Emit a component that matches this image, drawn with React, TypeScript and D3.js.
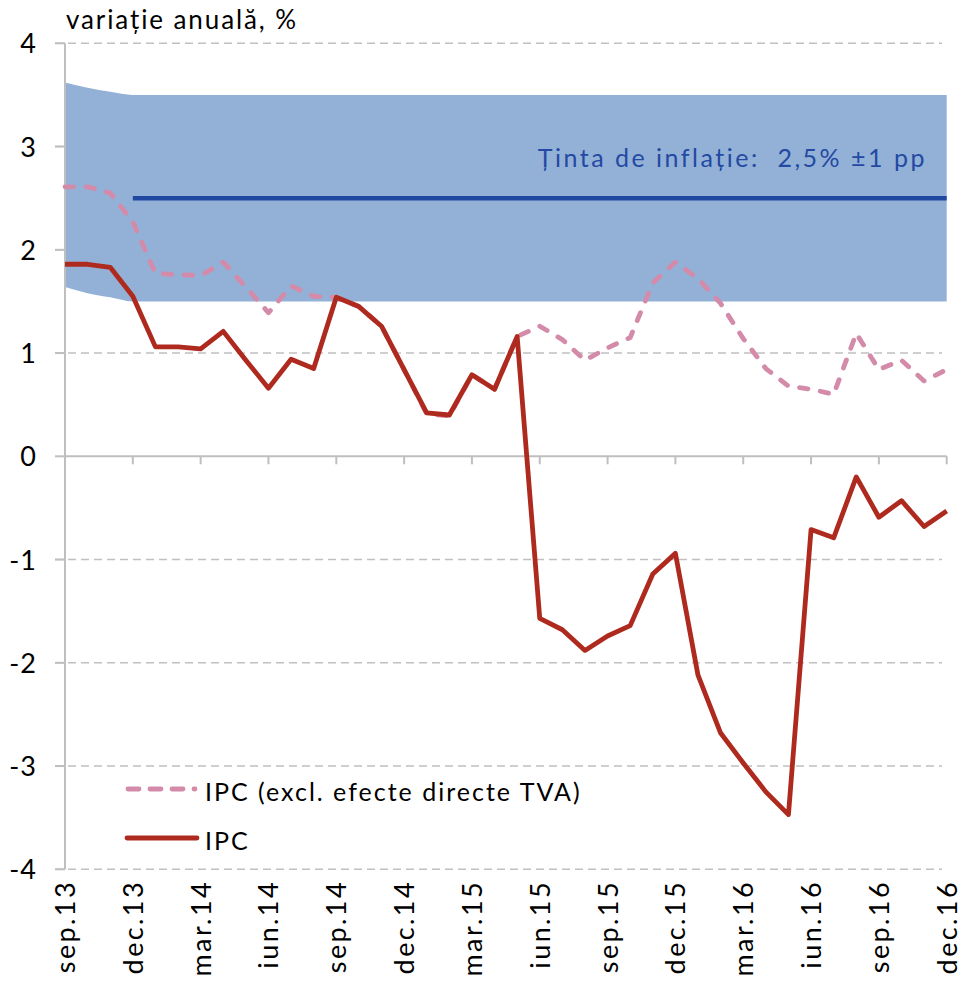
import React, { useEffect, useRef } from 'react';
import * as d3 from 'd3';

// categories: monthly, sep.13 .. dec.16
const months = [
  'sep.13', 'oct.13', 'noi.13', 'dec.13',
  'ian.14', 'feb.14', 'mar.14', 'apr.14', 'mai.14', 'iun.14', 'iul.14', 'aug.14', 'sep.14', 'oct.14', 'noi.14', 'dec.14',
  'ian.15', 'feb.15', 'mar.15', 'apr.15', 'mai.15', 'iun.15', 'iul.15', 'aug.15', 'sep.15', 'oct.15', 'noi.15', 'dec.15',
  'ian.16', 'feb.16', 'mar.16', 'apr.16', 'mai.16', 'iun.16', 'iul.16', 'aug.16', 'sep.16', 'oct.16', 'noi.16', 'dec.16',
];
const tickLabels = ['sep.13', 'dec.13', 'mar.14', 'iun.14', 'sep.14', 'dec.14', 'mar.15', 'iun.15', 'sep.15', 'dec.15', 'mar.16', 'iun.16', 'sep.16', 'dec.16'];
const yTicks = [4, 3, 2, 1, 0, -1, -2, -3, -4];

// IPC, variatie anuala %
const ipc = [
  1.86, 1.86, 1.83, 1.55,
  1.06, 1.06, 1.04, 1.21, 0.93, 0.66, 0.94, 0.85, 1.54, 1.45, 1.26, 0.84,
  0.42, 0.40, 0.79, 0.65, 1.16, -1.57, -1.68, -1.88, -1.74, -1.64, -1.14, -0.94,
  -2.12, -2.68, -2.97, -3.25, -3.47, -0.71, -0.79, -0.20, -0.59, -0.43, -0.68, -0.53,
];
// IPC excl. efecte directe TVA
const ipcExcl = [
  2.61, 2.61, 2.55, 2.27,
  1.77, 1.76, 1.75, 1.88, 1.64, 1.39, 1.65, 1.55, 1.54, 1.45, 1.26, 0.84,
  0.41, 0.39, 0.79, 0.65, 1.16, 1.26, 1.13, 0.93, 1.05, 1.15, 1.68, 1.88,
  1.72, 1.48, 1.14, 0.85, 0.68, 0.65, 0.60, 1.19, 0.84, 0.93, 0.73, 0.84,
];
// target band and target
const bandUpper = [
  3.62, 3.57, 3.53, 3.5,
  3.5, 3.5, 3.5, 3.5, 3.5, 3.5, 3.5, 3.5, 3.5, 3.5, 3.5, 3.5,
  3.5, 3.5, 3.5, 3.5, 3.5, 3.5, 3.5, 3.5, 3.5, 3.5, 3.5, 3.5,
  3.5, 3.5, 3.5, 3.5, 3.5, 3.5, 3.5, 3.5, 3.5, 3.5, 3.5, 3.5,
];
const bandLower = [
  1.64, 1.58, 1.54, 1.5,
  1.5, 1.5, 1.5, 1.5, 1.5, 1.5, 1.5, 1.5, 1.5, 1.5, 1.5, 1.5,
  1.5, 1.5, 1.5, 1.5, 1.5, 1.5, 1.5, 1.5, 1.5, 1.5, 1.5, 1.5,
  1.5, 1.5, 1.5, 1.5, 1.5, 1.5, 1.5, 1.5, 1.5, 1.5, 1.5, 1.5,
];
const target = [
  null, null, null, 2.5,
  2.5, 2.5, 2.5, 2.5, 2.5, 2.5, 2.5, 2.5, 2.5, 2.5, 2.5, 2.5,
  2.5, 2.5, 2.5, 2.5, 2.5, 2.5, 2.5, 2.5, 2.5, 2.5, 2.5, 2.5,
  2.5, 2.5, 2.5, 2.5, 2.5, 2.5, 2.5, 2.5, 2.5, 2.5, 2.5, 2.5,
];

const App = () => {
  const ref = useRef<SVGSVGElement>(null);

  useEffect(() => {
    const width = 963;
    const height = 982;
    const font = 'Lato, Carlito, Calibri, sans-serif';
    const svg = d3.select(ref.current).attr('width', width).attr('height', height);
    svg.selectAll('*').remove();

    const x = d3.scalePoint<string>().domain(months).range([65, 946.7]);
    const y = d3.scaleLinear().domain([-4, 4]).range([869.3, 43.3]);
    const xi = (i: number) => x(months[i]) as number;

    // gridlines
    svg.append('g')
      .selectAll('line')
      .data(yTicks.filter(d => d !== 0))
      .join('line')
      .attr('x1', 55).attr('x2', 942)
      .attr('y1', d => y(d)).attr('y2', d => y(d))
      .attr('stroke', '#c0c0c0')
      .attr('stroke-width', 1.6)
      .attr('stroke-dasharray', '8,5');

    // target band
    const area = d3.area<number>()
      .x((d, i) => xi(i))
      .y0((d, i) => y(bandLower[i]))
      .y1(d => y(d))
      .curve(d3.curveMonotoneX);
    svg.append('path')
      .attr('d', area(bandUpper))
      .attr('fill', '#93b1d7');

    // axes
    svg.append('line')
      .attr('x1', 65).attr('x2', 65)
      .attr('y1', y(4)).attr('y2', y(-4))
      .attr('stroke', '#bfbfbf').attr('stroke-width', 2);
    svg.append('g')
      .selectAll('line')
      .data(yTicks)
      .join('line')
      .attr('x1', 55).attr('x2', 65)
      .attr('y1', d => y(d)).attr('y2', d => y(d))
      .attr('stroke', '#bfbfbf').attr('stroke-width', 2);
    svg.append('line')
      .attr('x1', 65).attr('x2', 946.7)
      .attr('y1', y(0)).attr('y2', y(0))
      .attr('stroke', '#bfbfbf').attr('stroke-width', 2);
    svg.append('g')
      .selectAll('line')
      .data(tickLabels)
      .join('line')
      .attr('x1', d => x(d) as number).attr('x2', d => x(d) as number)
      .attr('y1', y(0)).attr('y2', y(0) + 8)
      .attr('stroke', '#bfbfbf').attr('stroke-width', 2);

    // y labels
    svg.append('g')
      .selectAll('text')
      .data(yTicks)
      .join('text')
      .attr('x', 37)
      .attr('y', d => y(d) + 10)
      .attr('text-anchor', 'end')
      .attr('font-family', font)
      .attr('font-size', 27)
      .attr('letter-spacing', 1)
      .attr('fill', '#000')
      .text(d => String(d));

    // x labels
    svg.append('g')
      .selectAll('text')
      .data(tickLabels)
      .join('text')
      .attr('transform', d => `translate(${(x(d) as number) + 10},${880}) rotate(-90)`)
      .attr('text-anchor', 'end')
      .attr('font-family', font)
      .attr('font-size', 27)
      .attr('letter-spacing', 2.4)
      .attr('fill', '#000')
      .text(d => d);

    // title
    svg.append('text')
      .attr('x', 66).attr('y', 29)
      .attr('font-family', font)
      .attr('font-size', 26)
      .attr('letter-spacing', 1.9)
      .attr('fill', '#000')
      .text('variație anuală, %');

    const line = d3.line<number | null>()
      .defined(d => d !== null)
      .x((d, i) => xi(i))
      .y(d => y(d as number));

    // target line
    svg.append('path')
      .attr('d', line(target))
      .attr('fill', 'none')
      .attr('stroke', '#2148a0')
      .attr('stroke-width', 4.5);
    svg.append('text')
      .attr('x', 927).attr('y', 167)
      .attr('text-anchor', 'end')
      .attr('font-family', font)
      .attr('font-size', 25)
      .attr('letter-spacing', 2.5)
      .attr('fill', '#2349a3')
      .style('white-space', 'pre')
      .text('Ținta de inflație:  2,5% ±1 pp');

    // IPC excl. TVA
    svg.append('path')
      .attr('d', line(ipcExcl))
      .attr('fill', 'none')
      .attr('stroke', '#d48aa9')
      .attr('stroke-width', 4.8)
      .attr('stroke-linecap', 'round')
      .attr('stroke-linejoin', 'round')
      .attr('stroke-dasharray', '8.5,12.5');

    // IPC
    svg.append('path')
      .attr('d', line(ipc))
      .attr('fill', 'none')
      .attr('stroke', '#af2a1e')
      .attr('stroke-width', 4.8)
      .attr('stroke-linejoin', 'round');

    // legend
    const legend = svg.append('g');
    legend.append('line')
      .attr('x1', 128).attr('x2', 195).attr('y1', 789).attr('y2', 789)
      .attr('stroke', '#d48aa9').attr('stroke-width', 4.8)
      .attr('stroke-linecap', 'round')
      .attr('stroke-dasharray', '11,11');
    legend.append('text')
      .attr('x', 205).attr('y', 801)
      .attr('font-family', font).attr('font-size', 25)
      .attr('letter-spacing', 2)
      .text('IPC (excl. efecte directe TVA)');
    legend.append('line')
      .attr('x1', 127).attr('x2', 197).attr('y1', 838).attr('y2', 838)
      .attr('stroke', '#af2a1e').attr('stroke-width', 4.8)
      .attr('stroke-linecap', 'round');
    legend.append('text')
      .attr('x', 205).attr('y', 850)
      .attr('font-family', font).attr('font-size', 25)
      .attr('letter-spacing', 2)
      .text('IPC');
  }, []);

  return (
    <div style={{ position: 'absolute', left: 0, top: 0 }}>
      <svg ref={ref} style={{ display: 'block', background: '#fff' }}></svg>
    </div>
  );
};

export default App;
